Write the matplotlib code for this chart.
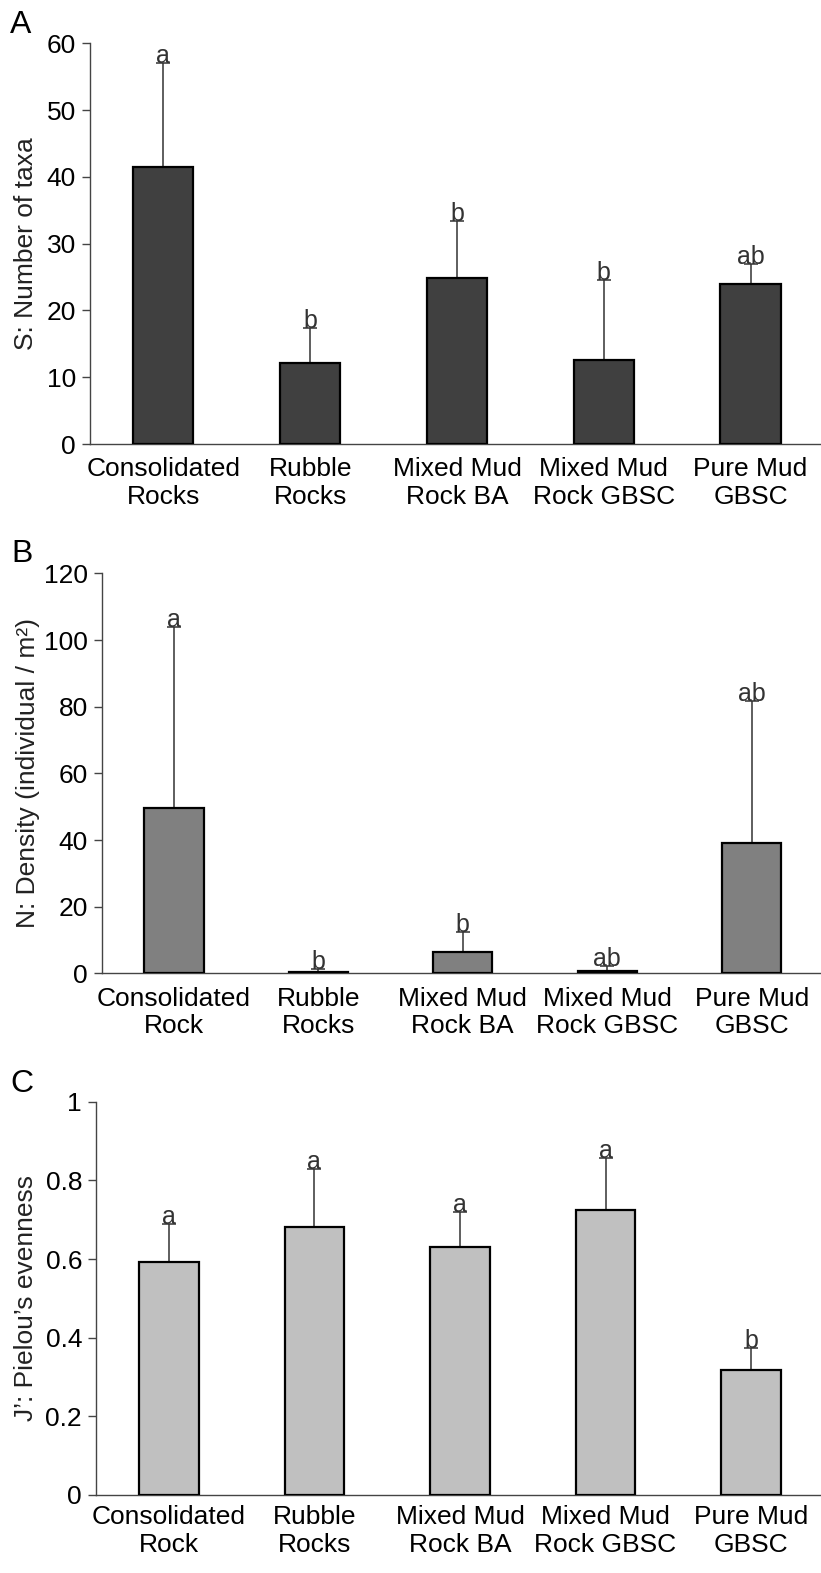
import matplotlib
matplotlib.use("Agg")
from matplotlib import pyplot as plt
import numpy as np

plt.rcParams['font.family'] = ['Liberation Sans', 'DejaVu Sans']

cats_a = ["Consolidated\nRocks", "Rubble\nRocks", "Mixed Mud\nRock BA", "Mixed Mud\nRock GBSC", "Pure Mud\nGBSC"]
cats_bc = ["Consolidated\nRock", "Rubble\nRocks", "Mixed Mud\nRock BA", "Mixed Mud\nRock GBSC", "Pure Mud\nGBSC"]

# panel A: number of taxa
S_mean = [41.5, 12.1, 24.9, 12.6, 24.0]
S_upper = [57.1, 17.3, 33.4, 24.5, 26.9]
S_letters = ["a", "b", "b", "b", "ab"]

# panel B: density
N_mean = [49.5, 0.5, 6.3, 0.8, 39.0]
N_upper = [104.0, 1.2, 12.3, 2.3, 81.8]
N_letters = ["a", "b", "b", "ab", "ab"]

# panel C: evenness
J_mean = [0.593, 0.682, 0.631, 0.725, 0.318]
J_upper = [0.688, 0.828, 0.720, 0.856, 0.373]
J_letters = ["a", "a", "a", "a", "b"]

fig = plt.figure(figsize=(8.21, 15.73), dpi=100)

def panel(rect, cats, mean, upper, letters, color, ylim, yticks, ytl, ylabel, labx, xpad):
    ax = fig.add_axes(rect)
    x = np.arange(len(cats))
    mean = np.array(mean)
    up = np.array(upper) - mean
    ax.errorbar(x, mean, yerr=[np.zeros_like(up), up], fmt='none', ecolor='#333333',
                elinewidth=1.1, capsize=5, capthick=1.1, zorder=2)
    ax.bar(x, mean, width=0.41, color=color, edgecolor='black', linewidth=1.6, zorder=3)
    for xi, u, l in zip(x, upper, letters):
        ax.text(xi, u, l, ha='center', va='baseline', fontsize=18, color='#333333', zorder=4)
    ax.set_xlim(-0.5, 4.48)
    ax.set_ylim(*ylim)
    ax.set_yticks(yticks)
    ax.set_yticklabels(ytl)
    ax.set_xticks(x)
    ax.set_xticklabels(cats)
    ax.spines['top'].set_visible(False)
    ax.spines['right'].set_visible(False)
    for s in ['left', 'bottom']:
        ax.spines[s].set_color('#444444')
        ax.spines[s].set_linewidth(1.0)
    ax.tick_params(axis='y', length=6, width=1.0, color='#444444', labelsize=19, pad=4)
    ax.tick_params(axis='x', length=0, labelsize=19, pad=xpad)
    ax.set_ylabel(ylabel, fontsize=19, color='#222222')
    ax.yaxis.set_label_coords(labx, 0.5)
    return ax

panel([0.1096, 0.7177, 0.8904, 0.2548], cats_a, S_mean, S_upper, S_letters, '#404040',
      (0, 60), [0, 10, 20, 30, 40, 50, 60], ['0', '10', '20', '30', '40', '50', '60'],
      "S: Number of taxa", -0.071, 9.5)
panel([0.1239, 0.3812, 0.8761, 0.2543], cats_bc, N_mean, N_upper, N_letters, '#808080',
      (0, 120), [0, 20, 40, 60, 80, 100, 120], ['0', '20', '40', '60', '80', '100', '120'],
      "N: Density (individual / m²)", -0.086, 9.5)
panel([0.1169, 0.0496, 0.8831, 0.2500], cats_bc, J_mean, J_upper, J_letters, '#c0c0c0',
      (0, 1), [0, 0.2, 0.4, 0.6, 0.8, 1], ['0', '0.2', '0.4', '0.6', '0.8', '1'],
      "J’: Pielou’s evenness", -0.080, 7.5)

fig.text(10 / 821, 1 - 33 / 1573, "A", fontsize=23, va='baseline', ha='left')
fig.text(11 / 821, 1 - 562 / 1573, "B", fontsize=23, va='baseline', ha='left')
fig.text(10 / 821, 1 - 1092 / 1573, "C", fontsize=23, va='baseline', ha='left')

fig.savefig("out.png", dpi=100)
